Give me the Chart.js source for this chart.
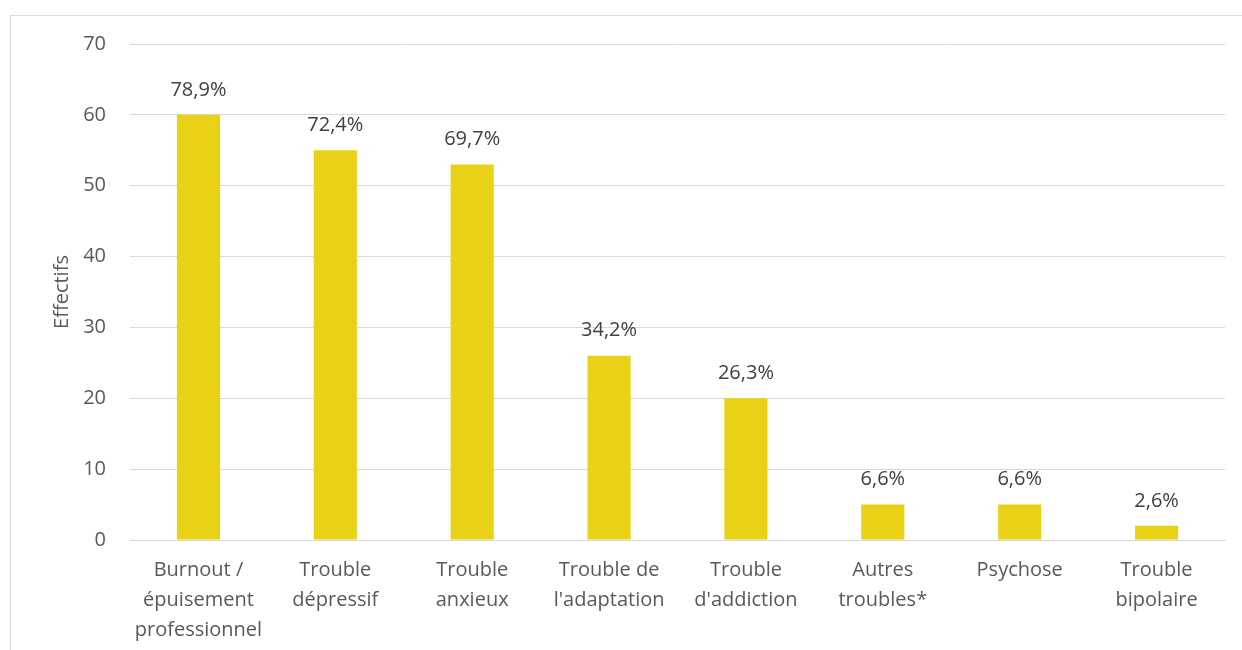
<!DOCTYPE html>
<html>
<head>
<meta charset="utf-8">
<script src="https://cdn.jsdelivr.net/npm/chart.js@4"></script>
<style>
    body { margin: 0; background: #fff; }
    #frame { position: absolute; left: 10px; top: 15px; width: 1300px; height: 700px; border-top: 1px solid #d9d9d9; border-left: 1px solid #d9d9d9; }
    #wrap { position: absolute; left: 0; top: 0; width: 1242px; height: 650px; }
</style>
</head>
<body>
<div id="frame"></div>
<div id="wrap"><canvas id="troubleschart"></canvas></div>
<script>
const categories = [
    ["Burnout /", "épuisement", "professionnel"],
    ["Trouble", "dépressif"],
    ["Trouble", "anxieux"],
    ["Trouble de", "l'adaptation"],
    ["Trouble", "d'addiction"],
    ["Autres", "troubles*"],
    ["Psychose"],
    ["Trouble", "bipolaire"]
];
const effectifs = [60, 55, 53, 26, 20, 5, 5, 2];
const pourcentages = ["78,9%", "72,4%", "69,7%", "34,2%", "26,3%", "6,6%", "6,6%", "2,6%"];

const fontFamily = "'Open Sans', sans-serif";

// draws the percentage above each bar
const barLabels = {
    id: "barLabels",
    afterDatasetsDraw(chart) {
        const ctx = chart.ctx;
        const meta = chart.getDatasetMeta(0);
        ctx.save();
        ctx.font = "20px " + fontFamily;
        ctx.fillStyle = "#404040";
        ctx.textAlign = "center";
        ctx.textBaseline = "middle";
        meta.data.forEach((bar, i) => {
            ctx.fillText(pourcentages[i], bar.x, bar.y - 25);
        });
        ctx.restore();
    }
};

const cv = document.getElementById("troubleschart");

new Chart(cv, {
    type: "bar",
    data: {
        labels: categories,
        datasets: [{
            label: "Effectifs",
            data: effectifs,
            backgroundColor: "#E9D115",
            barPercentage: 0.63,
            categoryPercentage: 0.5
        }]
    },
    options: {
        responsive: true,
        maintainAspectRatio: false,
        animation: false,
        layout: {
            padding: { top: 44, right: 17, bottom: 4, left: 50 }
        },
        plugins: {
            legend: { display: false },
            tooltip: { enabled: false }
        },
        scales: {
            x: {
                grid: { display: false, drawTicks: false },
                border: { color: "#d9d9d9", width: 1 },
                ticks: {
                    color: "#595959",
                    font: { family: fontFamily, size: 20, lineHeight: 1.5 },
                    padding: 15,
                    maxRotation: 0,
                    autoSkip: false
                },
                afterFit(scale) { scale.height = 106; }
            },
            y: {
                min: 0,
                max: 70,
                ticks: {
                    stepSize: 10,
                    color: "#595959",
                    font: { family: fontFamily, size: 20 },
                    padding: 24
                },
                grid: { color: "#d9d9d9", drawTicks: false },
                border: { display: false },
                title: {
                    display: true,
                    text: "Effectifs",
                    color: "#595959",
                    font: { family: fontFamily, size: 20 },
                    padding: 0
                },
                afterFit(scale) { scale.width = 80; }
            }
        }
    },
    plugins: [barLabels]
});
</script>
</body>
</html>
